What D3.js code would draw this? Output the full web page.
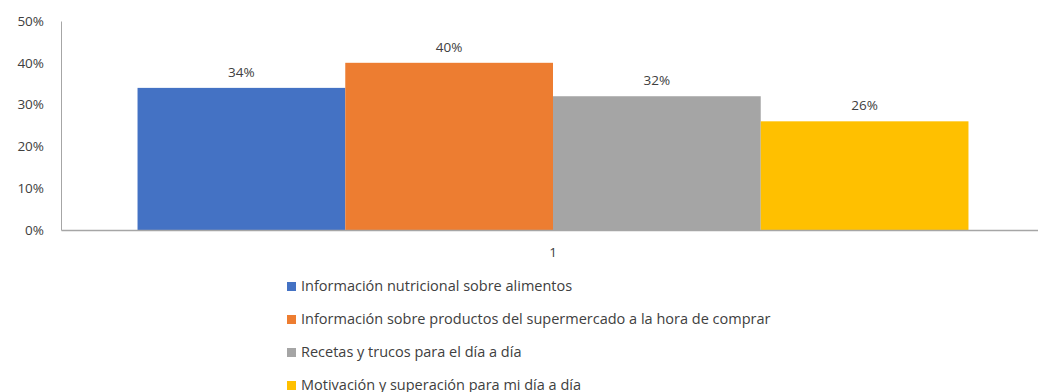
<!DOCTYPE html>
<html>
<head>
<meta charset="utf-8">
<script src="https://cdn.jsdelivr.net/npm/d3@7"></script>
<style>
  html, body { margin: 0; padding: 0; background: #fff; }
  svg { display: block; }
  text { font-family: "Open Sans", "Noto Sans", sans-serif; fill: #404040; }
</style>
</head>
<body>
<svg id="chart" width="1038" height="392"></svg>
<script>
// Survey answers: one category, four series
const categories = ["1"];
const seriesNames = [
  "Información nutricional sobre alimentos",
  "Información sobre productos del supermercado a la hora de comprar",
  "Recetas y trucos para el día a día",
  "Motivación y superación para mi día a día"
];
const seriesValues = [0.34, 0.40, 0.32, 0.26];
const seriesColors = ["#4472c4", "#ed7d31", "#a5a5a5", "#ffc000"];
const yTicks = [0, 0.1, 0.2, 0.3, 0.4, 0.5];

const svg = d3.select("#chart");
const plot = { left: 61, right: 1045, top: 21, bottom: 230 };

const y = d3.scaleLinear().domain([0, 0.5]).range([plot.bottom, plot.top]);
const x0 = d3.scaleBand().domain(categories).range([plot.left, plot.right])
  .paddingInner(0).paddingOuter(0.0921);
const x1 = d3.scaleBand().domain(d3.range(seriesNames.length)).range([0, x0.bandwidth()]).padding(0);

const fmt = d3.format(".0%");

// Y axis
const yAxis = d3.axisLeft(y).tickValues(yTicks).tickFormat(fmt).tickSize(0).tickPadding(17);
const gy = svg.append("g").attr("transform", `translate(${plot.left},0)`).call(yAxis);
gy.select(".domain").attr("stroke", "#a6a6a6").attr("stroke-width", 1);
gy.selectAll("text").style("font-size", "13.5px").attr("fill", "#404040");

// Bars
const g = svg.append("g").attr("transform", `translate(${x0(categories[0])},0)`);
g.selectAll("rect").data(seriesValues).join("rect")
  .attr("x", (d, i) => x1(i))
  .attr("y", d => y(d))
  .attr("width", x1.bandwidth())
  .attr("height", d => y(0) - y(d))
  .attr("fill", (d, i) => seriesColors[i]);

g.selectAll("text.lbl").data(seriesValues).join("text")
  .attr("class", "lbl")
  .attr("x", (d, i) => x1(i) + x1.bandwidth() / 2)
  .attr("y", d => y(d) - 11)
  .attr("text-anchor", "middle")
  .style("font-size", "13.5px")
  .text(d => fmt(d));

// X axis
const xAxis = d3.axisBottom(x0).tickSize(0).tickPadding(17);
const gx = svg.append("g").attr("transform", `translate(0,${plot.bottom})`).call(xAxis);
gx.select(".domain").attr("stroke", "#a6a6a6").attr("stroke-width", 1.5);
gx.selectAll("text").style("font-size", "13.5px").attr("fill", "#404040");

// Legend
const legend = svg.append("g").attr("transform", "translate(287,286)");
const rows = legend.selectAll("g").data(seriesNames).join("g")
  .attr("transform", (d, i) => `translate(0,${i * 33})`);
rows.append("rect").attr("x", 0).attr("y", -4).attr("width", 9).attr("height", 9)
  .attr("fill", (d, i) => seriesColors[i]);
rows.append("text").attr("x", 14).attr("y", 0).attr("dy", "0.35em")
  .style("font-size", "14.5px").text(d => d);
</script>
</body>
</html>
